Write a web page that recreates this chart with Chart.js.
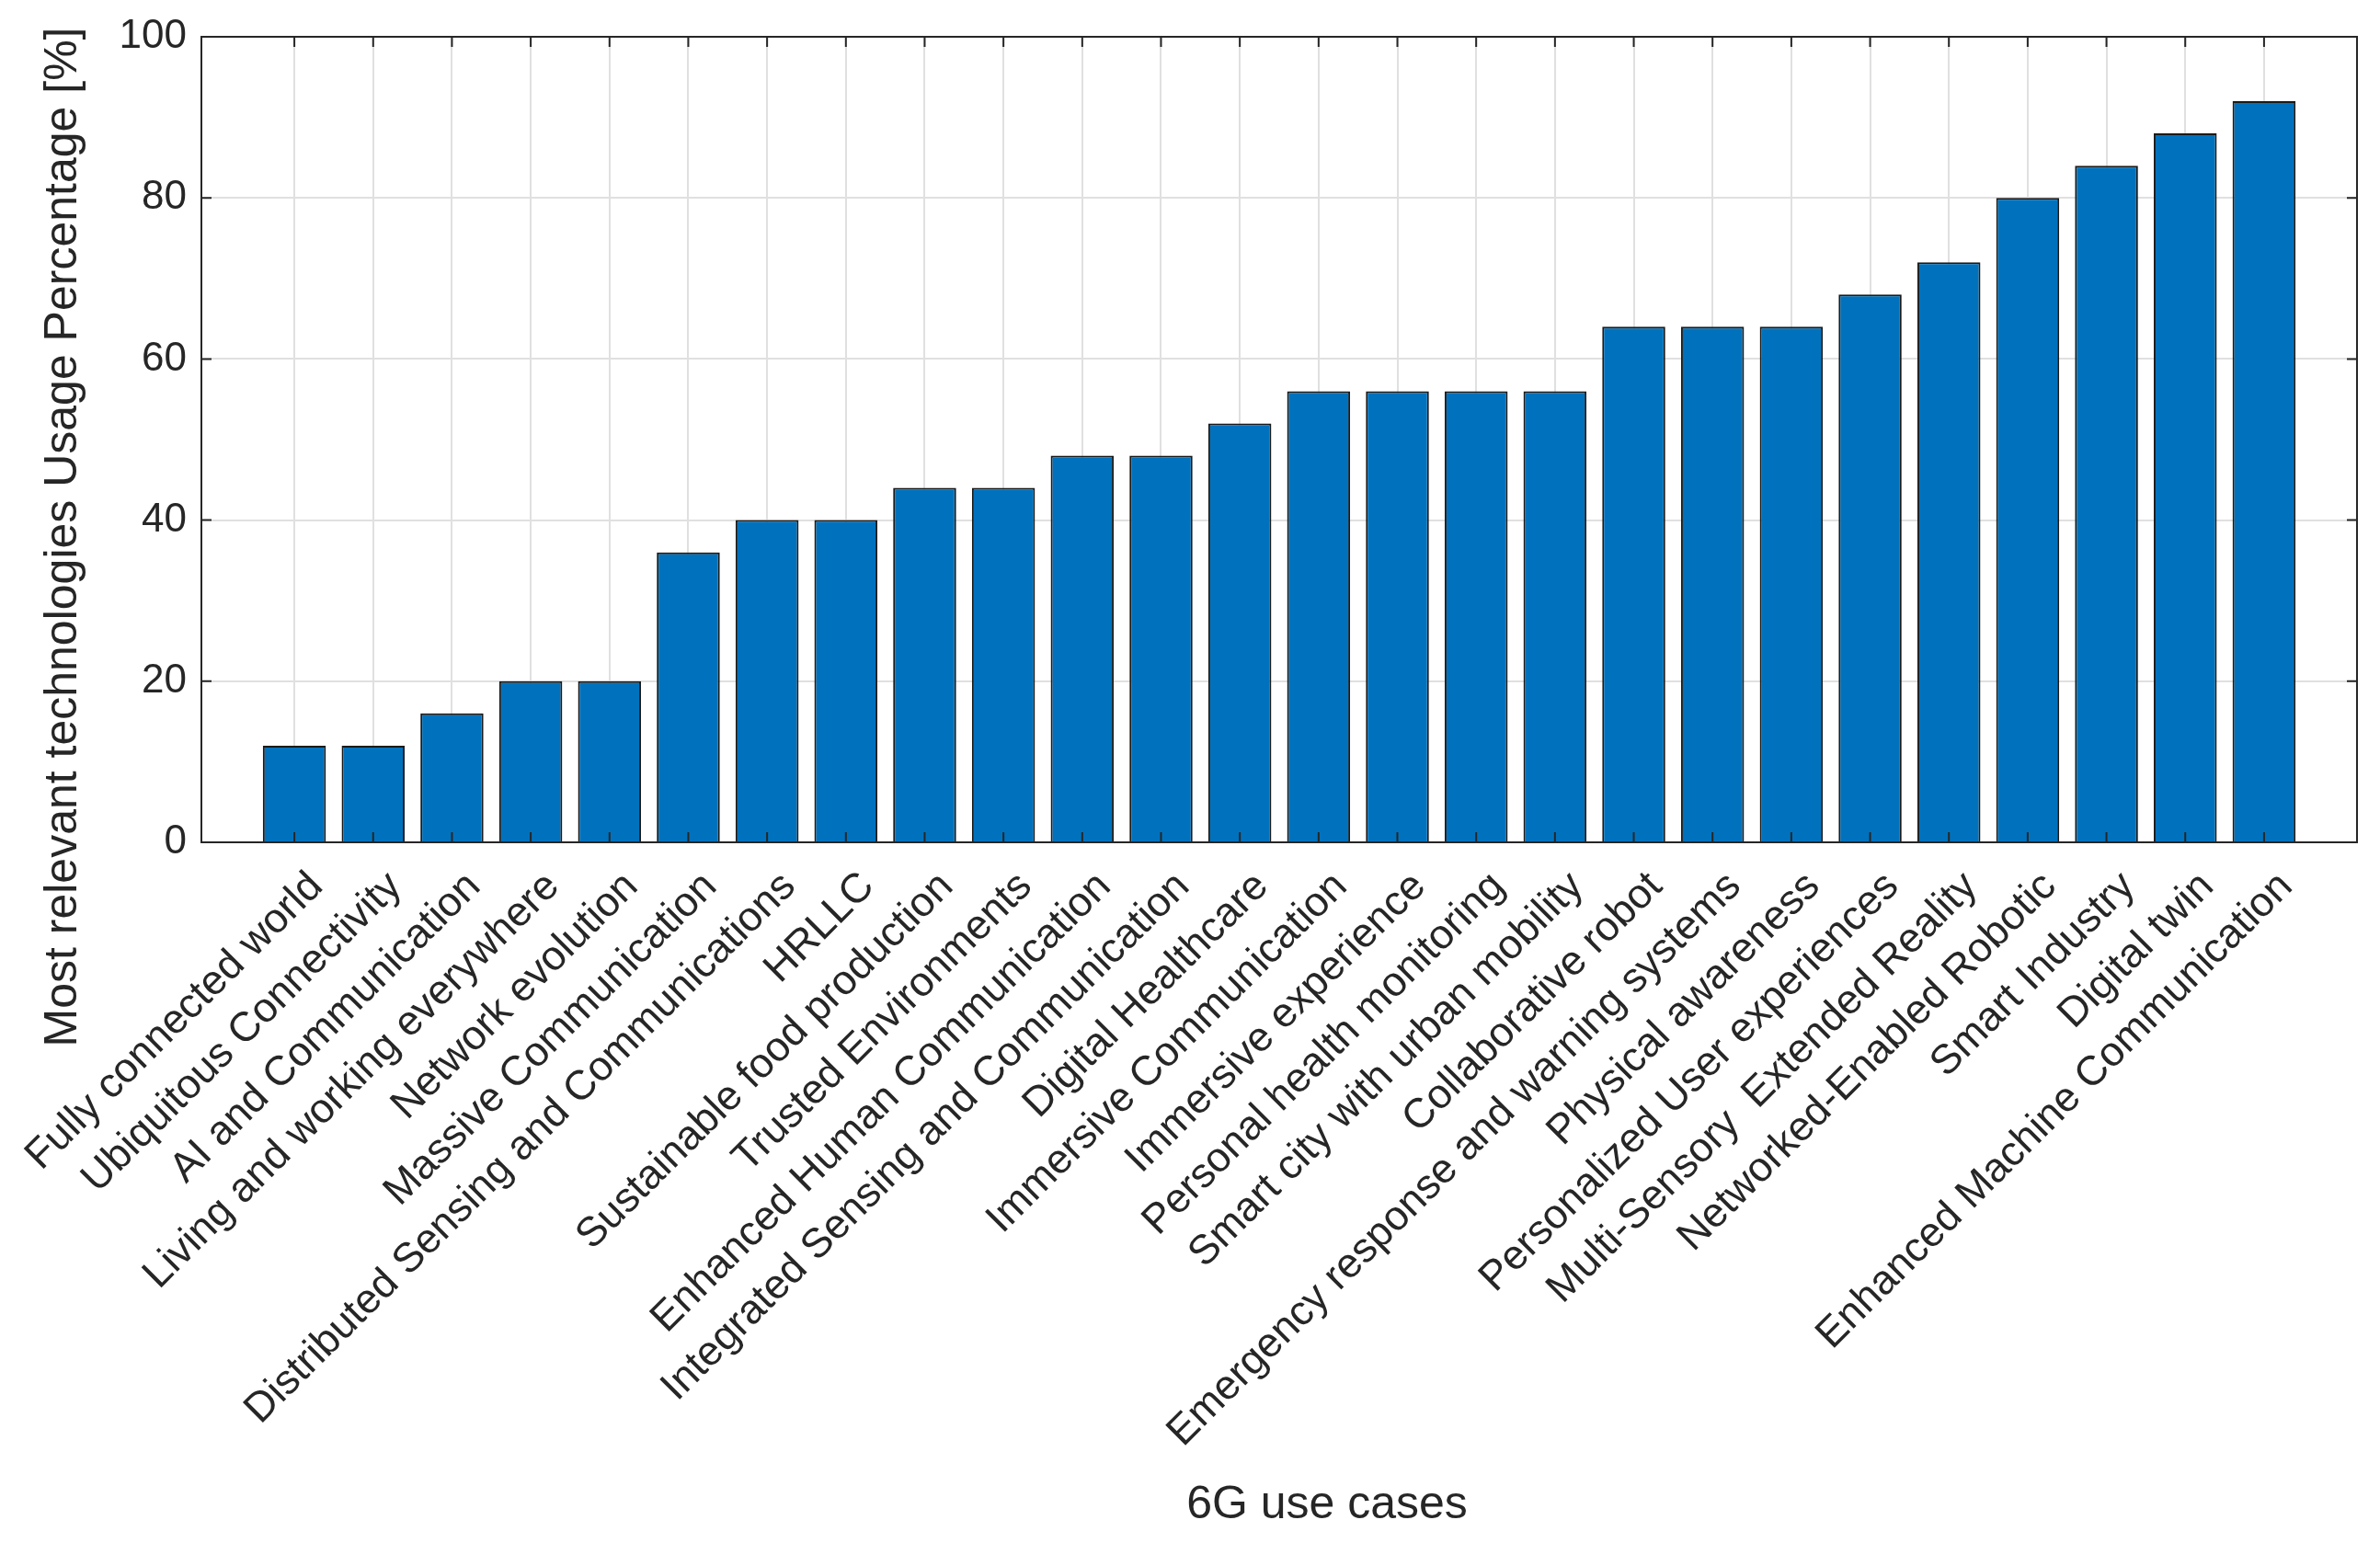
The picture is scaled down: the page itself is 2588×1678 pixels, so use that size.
<!DOCTYPE html>
<html>
<head>
<meta charset="utf-8">
<script src="https://cdn.jsdelivr.net/npm/chart.js@4.4.1/dist/chart.umd.min.js"></script>
<style>
  html, body { margin: 0; padding: 0; background: #fff; }
  #wrap { width: 2588px; height: 1678px; }
</style>
</head>
<body>
<div id="wrap"><canvas id="myChart"></canvas></div>
<script>
  const labels = [
    'Fully connected world', 'Ubiquitous Connectivity', 'AI and Communication',
    'Living and working everywhere', 'Network evolution', 'Massive Communication',
    'Distributed Sensing and Communications', 'HRLLC', 'Sustainable food production',
    'Trusted Environments', 'Enhanced Human Communication',
    'Integrated Sensing and Communication', 'Digital Healthcare',
    'Immersive Communication', 'Immersive experience', 'Personal health monitoring',
    'Smart city with urban mobility', 'Collaborative robot',
    'Emergency response and warning systems', 'Physical awareness',
    'Personalized User experiences', 'Multi-Sensory  Extended Reality',
    'Networked-Enabled Robotic', 'Smart Industry', 'Digital twin',
    'Enhanced Machine Communication'
  ];
  const usage = [12, 12, 16, 20, 20, 36, 40, 40, 44, 44, 48, 48, 52, 56, 56, 56, 56, 64, 64, 64, 68, 72, 80, 84, 88, 92];
  const yTicks = [0, 20, 40, 60, 80, 100];

  const xTitle = '6G use cases';
  const yTitle = 'Most relevant technologies Usage Percentage [%]';

  const axisColor = '#262626';
  const fontFamily = "'Liberation Sans', Arial, sans-serif";

  // box, inward ticks and axis titles (MATLAB look)
  const matlabAxes = {
    id: 'matlabAxes',
    afterDatasetsDraw(chart) {
      const { ctx, chartArea: a, scales: { x, y } } = chart;
      ctx.save();
      ctx.strokeStyle = axisColor;
      ctx.lineWidth = 2;
      ctx.strokeRect(a.left, a.top, a.right - a.left, a.bottom - a.top);
      const tl = 11;
      ctx.beginPath();
      x.ticks.forEach(t => {
        const px = x.getPixelForValue(t.value);
        ctx.moveTo(px, a.bottom); ctx.lineTo(px, a.bottom - tl);
        ctx.moveTo(px, a.top); ctx.lineTo(px, a.top + tl);
      });
      y.ticks.forEach(t => {
        const py = y.getPixelForValue(t.value);
        ctx.moveTo(a.left, py); ctx.lineTo(a.left + tl, py);
        ctx.moveTo(a.right, py); ctx.lineTo(a.right - tl, py);
      });
      ctx.stroke();

      ctx.fillStyle = axisColor;
      ctx.font = '50px ' + fontFamily;
      ctx.textAlign = 'center';
      ctx.textBaseline = 'middle';
      ctx.fillText(xTitle, a.left + (a.right - a.left) / 2 + 52, 1637);
      ctx.translate(69, a.top + (a.bottom - a.top) / 2 + 106);
      ctx.rotate(-Math.PI / 2);
      ctx.fillText(yTitle, 0, 0);
      ctx.restore();
    }
  };

  const data = {
    datasets: [{
      label: 'Usage',
      data: usage.map((v, i) => ({ x: i, y: v })),
      backgroundColor: '#0072BD',
      borderColor: '#1a1a1a',
      borderWidth: 2,
      barPercentage: 0.8,
      categoryPercentage: 1.0
    }]
  };

  const config = {
    type: 'bar',
    data,
    options: {
      responsive: true,
      maintainAspectRatio: false,
      animation: false,
      layout: {
        padding: { top: 40, right: 25, left: 0, bottom: 0 }
      },
      scales: {
        x: {
          type: 'linear',
          offset: false,
          min: -1.18,
          max: 26.18,
          afterBuildTicks: s => { s.ticks = labels.map((_, i) => ({ value: i })); },
          afterFit: s => { s.height = 762; s.paddingLeft = 0; s.paddingRight = 0; },
          grid: { color: '#e0e0e0', lineWidth: 2, drawTicks: false, offset: false },
          border: { display: false },
          ticks: {
            autoSkip: false,
            maxRotation: 45,
            minRotation: 45,
            padding: 22,
            labelOffset: 24,
            color: axisColor,
            font: { family: fontFamily, size: 45 },
            callback: v => labels[v]
          }
        },
        y: {
          min: 0,
          max: 100,
          afterBuildTicks: s => { s.ticks = yTicks.map(v => ({ value: v })); },
          afterFit: s => { s.width = 219; s.paddingTop = 0; s.paddingBottom = 0; },
          grid: { color: '#e0e0e0', lineWidth: 2, drawTicks: false },
          border: { display: false },
          ticks: {
            padding: 16,
            color: axisColor,
            font: { family: fontFamily, size: 44 }
          }
        }
      },
      plugins: {
        legend: { display: false },
        tooltip: { enabled: false }
      }
    },
    plugins: [matlabAxes]
  };

  const myChart = new Chart(document.getElementById('myChart'), config);
</script>
</body>
</html>
